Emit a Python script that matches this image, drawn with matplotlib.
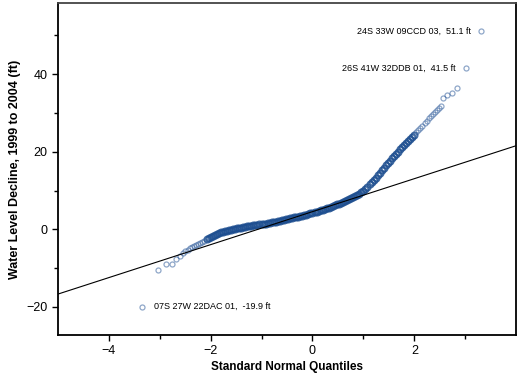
import matplotlib.pyplot as plt

plt.rcParams['font.family'] = ['Liberation Sans', 'DejaVu Sans']

# standard normal quantiles (x) and water level decline in ft (y)
lower_q = [-3.35, -3.03, -2.87, -2.76, -2.68, -2.61, -2.55, -2.50, -2.45, -2.41,
           -2.37, -2.33, -2.29, -2.25, -2.21, -2.17, -2.13]
lower_ft = [-19.9, -10.5, -9.0, -9.0, -7.7, -6.9, -6.2, -5.6, -5.3, -4.9,
            -4.6, -4.3, -4.0, -3.7, -3.4, -3.2, -2.9]

mid_q = [-2.08, -2.04, -2.00, -1.96, -1.92, -1.88, -1.84, -1.80, -1.76, -1.72,
         -1.68, -1.64, -1.60, -1.56, -1.52, -1.48, -1.44, -1.40, -1.36, -1.32,
         -1.28, -1.24, -1.20, -1.16, -1.12, -1.08, -1.04, -1.00, -0.96, -0.92,
         -0.88, -0.84, -0.80, -0.76, -0.72, -0.68, -0.64, -0.60, -0.56, -0.52,
         -0.48, -0.44, -0.40, -0.36, -0.32, -0.28, -0.24, -0.20, -0.16, -0.12,
         -0.08, -0.04, 0.00, 0.04, 0.08, 0.12, 0.16, 0.20, 0.24, 0.28,
         0.32, 0.36, 0.40, 0.44, 0.48, 0.52, 0.56, 0.60, 0.64, 0.68,
         0.72, 0.76, 0.80, 0.84, 0.88, 0.92, 0.96, 1.00, 1.04, 1.08,
         1.12, 1.16, 1.20, 1.24, 1.28, 1.32, 1.36, 1.40, 1.44, 1.48,
         1.52, 1.56, 1.60, 1.64, 1.68, 1.72, 1.76, 1.80, 1.84, 1.88,
         1.92, 1.96, 2.00]
mid_ft = [-2.55, -2.2, -1.9, -1.6, -1.35, -1.1, -0.9, -0.75, -0.6, -0.45,
          -0.35, -0.22, -0.1, 0.0, 0.15, 0.25, 0.35, 0.45, 0.55, 0.65,
          0.75, 0.85, 0.95, 1.05, 1.1, 1.2, 1.25, 1.35, 1.45, 1.5,
          1.6, 1.7, 1.8, 1.9, 2.0, 2.1, 2.2, 2.35, 2.45, 2.6,
          2.7, 2.85, 2.95, 3.05, 3.15, 3.25, 3.4, 3.5, 3.65, 3.8,
          3.95, 4.1, 4.25, 4.4, 4.55, 4.75, 4.9, 5.05, 5.25, 5.4,
          5.6, 5.8, 6.0, 6.2, 6.4, 6.6, 6.8, 7.0, 7.25, 7.5,
          7.7, 7.95, 8.2, 8.5, 8.8, 9.2, 9.6, 10.0, 10.5, 11.0,
          11.6, 12.1, 12.7, 13.3, 14.0, 14.6, 15.3, 15.9, 16.5, 17.1,
          17.7, 18.3, 18.9, 19.5, 20.0, 20.6, 21.1, 21.7, 22.2, 22.7,
          23.3, 23.8, 24.4]

upper_q = [2.04, 2.08, 2.12, 2.16, 2.20, 2.24, 2.28, 2.32, 2.36, 2.40,
           2.44, 2.48, 2.52, 2.57, 2.65, 2.73, 2.84, 3.01, 3.31]
upper_ft = [25.0, 25.5, 26.1, 26.7, 27.3, 27.9, 28.6, 29.2, 29.7, 30.3,
            30.8, 31.3, 31.8, 33.9, 34.6, 35.0, 36.3, 41.5, 51.1]

# reference normal line: mean + sd * z
fit_mean = 4.55
fit_sd = 4.25

# labelled wells
wells = ['24S 33W 09CCD 03,  51.1 ft', '26S 41W 32DDB 01,  41.5 ft', '07S 27W 22DAC 01,  -19.9 ft']
well_q = [3.31, 3.01, -3.35]
well_ft = [51.1, 41.5, -19.9]

fig = plt.figure(figsize=(5.30, 3.81), dpi=100)
ax = fig.add_axes([0.109, 0.121, 0.865, 0.870])

# sparse tails: single light circles
ax.plot(lower_q + upper_q, lower_ft + upper_ft, ls='none', marker='o', ms=3.6, mfc='none',
        mec='#1f4f93', mew=0.9, alpha=0.5, zorder=2)
# dense middle: overlapping circles merge into a dark band
ax.plot(mid_q, mid_ft, ls='none', marker='o', ms=4.3, mfc='none', mec='#1c4d8f',
        mew=1.5, alpha=0.8, zorder=2)
ax.axline((0, fit_mean), slope=fit_sd, color='black', lw=0.8, zorder=3)

for i, name in enumerate(wells):
    if well_q[i] > 0:
        ax.annotate(name, (well_q[i], well_ft[i]), xytext=(-7, 0), textcoords='offset points',
                    ha='right', va='center', fontsize=6.5)
    else:
        ax.annotate(name, (well_q[i], well_ft[i]), xytext=(9, 0), textcoords='offset points',
                    ha='left', va='center', fontsize=6.5)

ax.set_xlim(-5, 4)
ax.set_ylim(-27.2, 58.2)
ax.set_xticks([-4, -2, 0, 2])
ax.set_xticks([-3, -1, 1, 3], minor=True)
ax.set_yticks([-20, 0, 20, 40])
ax.set_yticks([-10, 10, 30, 50], minor=True)
ax.tick_params(which='both', direction='out', top=False, right=False, labelsize=9, width=1)
ax.tick_params(which='major', length=4)
ax.tick_params(which='minor', length=3)
for s in ax.spines.values():
    s.set_linewidth(1.3)
ax.spines['top'].set_color('#444444')

ax.set_xlabel('Standard Normal Quantiles', fontsize=8.5, fontweight='bold', labelpad=3)
ax.set_ylabel('Water Level Decline, 1999 to 2004 (ft)', fontsize=9, fontweight='bold', labelpad=4)

fig.savefig('out.png', dpi=100)
